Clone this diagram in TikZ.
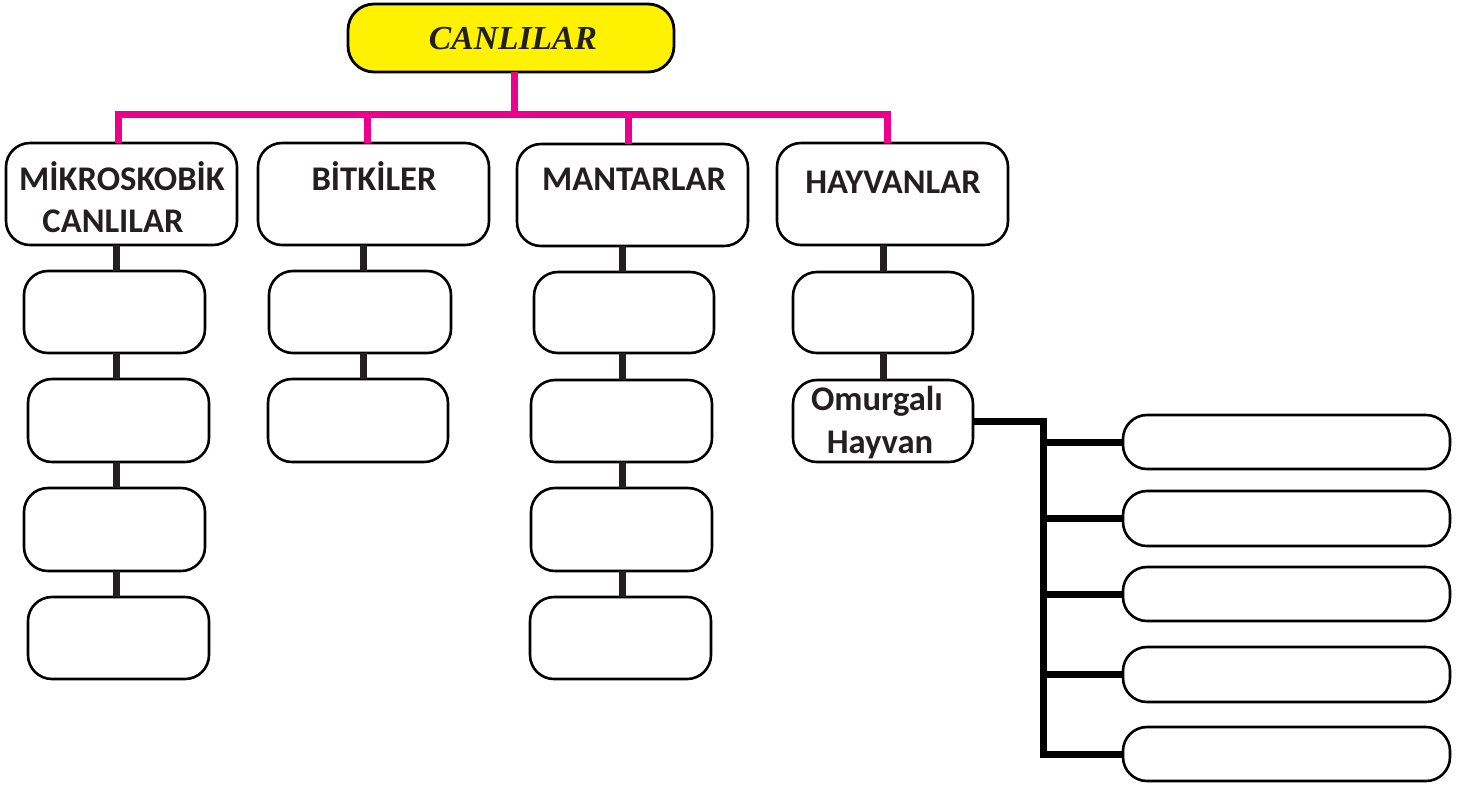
\documentclass[tikz,border=0pt]{standalone}
\usepackage{fontspec}
\setmainfont{Liberation Serif}
\newfontfamily\cfont{Carlito}
\usetikzlibrary{fit}
\definecolor{magentac}{HTML}{EC008C}
\definecolor{yellowc}{HTML}{FFF200}
\definecolor{inkc}{HTML}{231F20}
\begin{document}
\begin{tikzpicture}[x=0.5pt,y=-0.5pt,
  box/.style={draw=black, line width=1.3pt, rounded corners=12pt, inner sep=0pt, outer sep=0pt, fill=white},
  topbox/.style={box, fill=yellowc, line width=1.4pt, rounded corners=13pt},
  labeltext/.style={font=\cfont\bfseries\fontsize{17.3}{20}\selectfont, text=inkc, anchor=base, inner sep=0pt},
  titletext/.style={font=\rmfamily\bfseries\itshape\fontsize{16.8}{20}\selectfont, text=inkc, inner sep=0pt},
  pinkline/.style={draw=magentac, line width=3.5pt, line join=miter},
  stem/.style={draw=inkc, line width=3.5pt},
  bus/.style={draw=black, line width=3.5pt, line join=miter}]
\useasboundingbox (0,0) rectangle (1459,788);

% top node
\node[topbox, fit={(348,4) (674,72)}] (can) {};
\node[titletext] (cant) at (513,39) {CANLILAR};

% category boxes
\node[box, fit={(6,143) (237,245)}] (mik) {};
\node[box, fit={(258,143) (489,245)}] (bit) {};
\node[box, fit={(517,144) (748,246)}] (man) {};
\node[box, fit={(777,143) (1008,245)}] (hay) {};

\node[labeltext] (mikt1) at (122,190) {MİKROSKOBİK};
\node[labeltext] (mikt2) at (113,232) {CANLILAR};
\node[labeltext] (bitt) at (374,190) {BİTKİLER};
\node[labeltext] (mant) at (634,190) {MANTARLAR};
\node[labeltext] (hayt) at (893,193) {HAYVANLAR};

% column 1
\node[box, fit={(24,271) (205,353)}] (m1) {};
\node[box, fit={(28,379) (209,462)}] (m2) {};
\node[box, fit={(24,488) (205,571)}] (m3) {};
\node[box, fit={(28,597) (209,679)}] (m4) {};
% column 2
\node[box, fit={(269,271) (451,353)}] (b1) {};
\node[box, fit={(268,379) (448,462)}] (b2) {};
% column 3
\node[box, fit={(534,272) (714,353)}] (n1) {};
\node[box, fit={(531,380) (712,462)}] (n2) {};
\node[box, fit={(531,488) (712,571)}] (n3) {};
\node[box, fit={(530,597) (711,679)}] (n4) {};
% column 4
\node[box, fit={(793,272) (973,353)}] (h1) {};
\node[box, fit={(793,380) (973,462)}] (om) {};
\node[labeltext] (omt1) at (877,410) {Omurgalı};
\node[labeltext] (omt2) at (880,453) {Hayvan};
% right column
\node[box, fit={(1123,415) (1450,469)}] (r1) {};
\node[box, fit={(1123,491) (1450,546)}] (r2) {};
\node[box, fit={(1123,567) (1450,621)}] (r3) {};
\node[box, fit={(1123,647) (1450,702)}] (r4) {};
\node[box, fit={(1123,727) (1450,781)}] (r5) {};

% magenta connectors
\coordinate (barMik) at (118,114);
\coordinate (barBit) at (367,114);
\coordinate (barMan) at (628,114);
\coordinate (barHay) at (887,114);
\coordinate (barCan) at (514,114);
\draw[pinkline] (barMik |- mik.north) -- (barMik) -- (barHay) -- (barHay |- hay.north);
\draw[pinkline] (barBit) -- (barBit |- bit.north);
\draw[pinkline] (barMan) -- (barMan |- man.north);
\draw[pinkline] (barCan |- can.south) -- (barCan);

% vertical stems
\coordinate (c1) at (116,0);
\coordinate (c2) at (363,0);
\coordinate (c3) at (622,0);
\coordinate (c4) at (883,0);
\draw[stem] (c1 |- mik.south) -- (c1 |- m1.north);
\draw[stem] (c1 |- m1.south) -- (c1 |- m2.north);
\draw[stem] (c1 |- m2.south) -- (c1 |- m3.north);
\draw[stem] (c1 |- m3.south) -- (c1 |- m4.north);
\draw[stem] (c2 |- bit.south) -- (c2 |- b1.north);
\draw[stem] (c2 |- b1.south) -- (c2 |- b2.north);
\draw[stem] (c3 |- man.south) -- (c3 |- n1.north);
\draw[stem] (c3 |- n1.south) -- (c3 |- n2.north);
\draw[stem] (c3 |- n2.south) -- (c3 |- n3.north);
\draw[stem] (c3 |- n3.south) -- (c3 |- n4.north);
\draw[stem] (c4 |- hay.south) -- (c4 |- h1.north);
\draw[stem] (c4 |- h1.south) -- (c4 |- om.north);

% right bus
\coordinate (busx) at (1043,0);
\draw[bus] (om.east) -| (busx |- r5.west) -- (r5.west);
\draw[bus] (busx |- r1.west) -- (r1.west);
\draw[bus] (busx |- r2.west) -- (r2.west);
\draw[bus] (busx |- r3.west) -- (r3.west);
\draw[bus] (busx |- r4.west) -- (r4.west);
\end{tikzpicture}
\end{document}
